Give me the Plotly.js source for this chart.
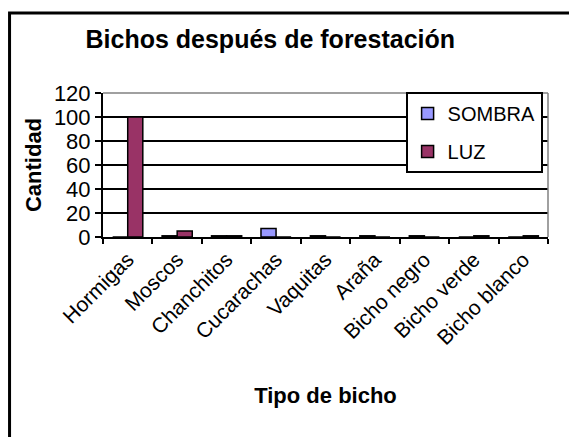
<!DOCTYPE html>
<html>
<head>
<meta charset="utf-8">
<script src="https://cdn.plot.ly/plotly-3.0.1.min.js"></script>
<style>
  html, body { margin: 0; padding: 0; background: #ffffff; }
  #chart { width: 569px; height: 437px; }
</style>
</head>
<body>
<div id="chart"></div>
<script>
const categories = ["Hormigas", "Moscos", "Chanchitos", "Cucarachas", "Vaquitas", "Araña", "Bicho negro", "Bicho verde", "Bicho blanco"];
const sombra = [0, 1, 1, 7, 1, 1, 1, 0, 0];
const luz = [100, 5, 1, 0, 0, 0, 0, 1, 1];
const yTicks = [0, 20, 40, 60, 80, 100, 120];

const FONT = "Liberation Sans, Arial, sans-serif";

const traces = [
  {
    type: "bar", name: "SOMBRA", x: categories, y: sombra, legendgroup: "a",
    marker: { color: "#9999FF", line: { color: "#000000", width: 1.5 } }
  },
  {
    type: "bar", name: "LUZ", x: categories, y: luz, legendgroup: "b",
    marker: { color: "#993366", line: { color: "#000000", width: 1.5 } }
  }
];

const layout = {
  width: 569, height: 437,
  margin: { l: 103, r: 21, t: 93, b: 200, pad: 0 },
  paper_bgcolor: "#ffffff",
  plot_bgcolor: "#ffffff",
  font: { family: FONT, color: "#000000", size: 20 },
  barmode: "group",
  bargap: 0.39,
  bargroupgap: 0,
  title: {
    text: "<b>Bichos después de forestación</b>",
    font: { family: FONT, size: 25, color: "#000000" },
    xref: "container", yref: "container",
    x: 0.475, xanchor: "center",
    y: 0.91, yanchor: "middle"
  },
  xaxis: {
    type: "category",
    tickangle: -45,
    tickfont: { family: FONT, size: 21, color: "#000000" },
    ticks: "outside", tickson: "boundaries", ticklen: 5, tickwidth: 2, tickcolor: "#000000",
    showline: true, linecolor: "#000000", linewidth: 2,
    showgrid: false,
    title: { text: "<b>Tipo de bicho</b>", font: { family: FONT, size: 22, color: "#000000" }, standoff: 40 }
  },
  yaxis: {
    range: [0, 120],
    tickvals: yTicks,
    ticktext: yTicks.map(String),
    tickfont: { family: FONT, size: 22, color: "#000000" },
    ticks: "outside", ticklen: 6, tickwidth: 2, tickcolor: "#000000",
    showline: true, linecolor: "#000000", linewidth: 2,
    showgrid: true, gridcolor: "#000000", gridwidth: 2,
    zeroline: false,
    title: { text: "<b>Cantidad</b>", font: { family: FONT, size: 22, color: "#000000" }, standoff: 6 }
  },
  legend: {
    x: 0.68, xanchor: "left",
    y: 1.007, yanchor: "top",
    bgcolor: "#ffffff",
    bordercolor: "#000000", borderwidth: 2,
    font: { family: FONT, size: 20, color: "#000000" },
    tracegroupgap: 9,
    traceorder: "grouped"
  },
  shapes: [
    { type: "line", xref: "paper", yref: "paper", x0: 0, x1: 1, y0: 1, y1: 1, line: { color: "#808080", width: 1.5 } },
    { type: "line", xref: "paper", yref: "paper", x0: 1, x1: 1, y0: 0, y1: 1, line: { color: "#808080", width: 1.5 } },
    { type: "rect", xref: "paper", yref: "paper", x0: -0.210, x1: 1.2, y0: 1.555, y1: -1.6, line: { color: "#000000", width: 3 }, layer: "below" }
  ],
  showlegend: true
};

Plotly.newPlot("chart", traces, layout, { displayModeBar: false, staticPlot: true });
</script>
</body>
</html>
